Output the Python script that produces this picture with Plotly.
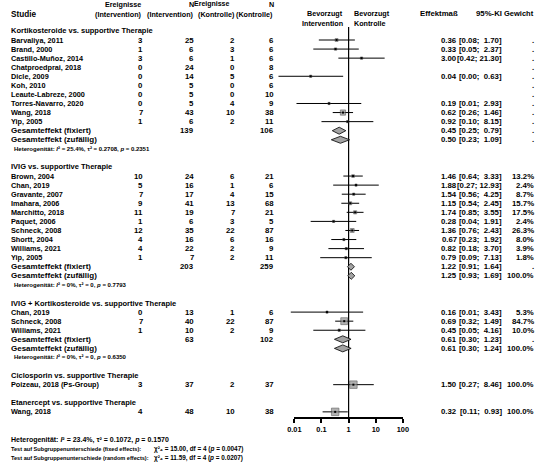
import math
import plotly.graph_objects as go

# ---------------- data ----------------
group_titles = [
    "Kortikosteroide vs. supportive Therapie",
    "IVIG vs. supportive Therapie",
    "IVIG + Kortikosteroide vs. supportive Therapie",
    "Ciclosporin vs. supportive Therapie",
    "Etanercept vs. supportive Therapie",
]
study_group = [0] * 10 + [1] * 10 + [2] * 3 + [3] + [4]
study_names = [
    "Barvaliya, 2011", "Brand, 2000", "Castillo-Muñoz, 2014", "Chatproedprai, 2018",
    "Dicle, 2009", "Koh, 2010", "Leaute-Labreze, 2000", "Torres-Navarro, 2020",
    "Wang, 2018", "Yip, 2005",
    "Brown, 2004", "Chan, 2019", "Gravante, 2007", "Imahara, 2006", "Marchitto, 2018",
    "Paquet, 2006", "Schneck, 2008", "Shortt, 2004", "Williams, 2021", "Yip, 2005",
    "Chan, 2019", "Schneck, 2008", "Williams, 2021",
    "Poizeau, 2018 (Ps-Group)",
    "Wang, 2018",
]
ev_int = [3, 1, 3, 0, 0, 0, 0, 0, 7, 1, 10, 5, 7, 9, 11, 1, 12, 4, 4, 1, 0, 7, 1, 3, 4]
n_int = [25, 6, 6, 24, 14, 5, 5, 5, 43, 6, 24, 16, 17, 41, 19, 6, 35, 16, 22, 7, 13, 40, 10, 37, 48]
ev_ctl = [2, 3, 1, 0, 5, 0, 0, 4, 10, 2, 6, 1, 4, 13, 7, 3, 22, 6, 2, 2, 1, 22, 2, 2, 10]
n_ctl = [6, 6, 6, 8, 6, 6, 10, 9, 38, 11, 21, 6, 15, 68, 21, 5, 87, 16, 9, 11, 6, 87, 9, 37, 38]
effect = [0.36, 0.33, 3.00, None, 0.04, None, None, 0.19, 0.62, 0.92,
          1.46, 1.88, 1.54, 1.15, 1.74, 0.28, 1.36, 0.67, 0.82, 0.79,
          0.16, 0.69, 0.45, 1.50, 0.32]
ci_low = [0.08, 0.05, 0.42, None, 0.0026, None, None, 0.012, 0.26, 0.10,
          0.64, 0.27, 0.56, 0.54, 0.85, 0.04, 0.76, 0.23, 0.18, 0.09,
          0.0074, 0.32, 0.05, 0.27, 0.11]
ci_high = [1.70, 2.37, 21.30, None, 0.63, None, None, 2.93, 1.46, 8.15,
           3.33, 12.93, 4.25, 2.45, 3.55, 1.91, 2.43, 1.92, 3.70, 7.13,
           3.43, 1.49, 4.16, 8.46, 0.93]
weight_pct = [None] * 10 + [13.2, 2.4, 8.7, 15.7, 17.5, 2.4, 26.3, 8.0, 3.9, 1.8,
                            5.3, 84.7, 10.0, 100.0, 100.0]

grp_n_int = [139, 203, 63, None, None]
grp_n_ctl = [106, 259, 102, None, None]
fix_eff = [0.45, 1.22, 0.61, None, None]
fix_lo = [0.25, 0.91, 0.30, None, None]
fix_hi = [0.79, 1.64, 1.23, None, None]
ran_eff = [0.50, 1.25, 0.61, None, None]
ran_lo = [0.23, 0.93, 0.30, None, None]
ran_hi = [1.09, 1.69, 1.24, None, None]
ran_w = [None, 100.0, 100.0, None, None]
het_i2 = [25.4, 0, 0, None, None]
het_tau2 = [0.2708, 0, 0, None, None]
het_p = [0.2351, 0.7793, 0.6350, None, None]

overall_het = (23.4, 0.1072, 0.1570)
test_fixed = (15.00, 4, 0.0047)
test_random = (11.59, 4, 0.0207)

tick_vals = [0.01, 0.1, 1, 10, 100]
tick_text = ["0.01", "0.1", "1", "10", "100"]

# ---------------- layout constants ----------------
W, H = 542, 465
ROW0, PITCH = 40.0, 9.07
X_ONE, DEC = 350.0, 27.8          # pixel of 1 and pixels per decade
FONT = "Liberation Sans, Arial, sans-serif"
FS_NAME = 7.3
FS_SEC = 7.5
FS_SUM = 8.0
FS_NUM = 7.8
FS_HEAD = 7.2
FS_TICK = 7.4
AXIS_Y = 418

COL_STUDY = 3
COL_EI = 140
COL_NI = 193
COL_EC = 235
COL_NC = 275
COL_EFF = 462
COL_CI = 508
COL_W = 541

SUBSCRIPT = str.maketrans("0123456789", "₀₁₂₃₄₅₆₇₈₉")


def row_y(i):
    return ROW0 + PITCH * i


annotations = []


def txt(s, xpx, ypx, anchor="left", size=FS_NUM):
    annotations.append(dict(
        text=s, x=xpx / W, xref="paper", y=ypx, yref="y", align=anchor,
        xanchor=anchor, yanchor="middle", showarrow=False, borderpad=0,
        font=dict(family=FONT, size=size, color="black", weight="bold")))


def fmt_ci(lo, hi):
    sp = "\u00a0\u00a0" if hi < 10 else "\u00a0"
    return f"[{lo:.2f};{sp}{hi:.2f}]"


def fmt_num(v):
    return "0" if v == 0 else f"{v:.4f}"


def fmt_i2(v):
    return "0%" if v == 0 else f"{v:.1f}%"


# ---------------- header ----------------
hy1, hy2 = 4, 14
txt("Studie", COL_STUDY, hy2, size=8.2)
txt("Ereignisse", 138, hy1, "right", FS_HEAD)
txt("(Intervention)", 139, hy2, "right", FS_HEAD)
txt("N", 193, hy1, "right", FS_HEAD)
txt("(Intervention)", 193, hy2, "right", FS_HEAD)
txt("Ereignisse", 230, hy1, "right", 7.0)
txt("(Kontrolle)", 235, hy2, "right", FS_HEAD)
txt("N", 275, hy1, "right", FS_HEAD)
txt("(Kontrolle)", 274, hy2, "right", FS_HEAD)
txt("Bevorzugt", 345, 13, "right", FS_HEAD)
txt("Intervention", 345, 23, "right", FS_HEAD)
txt("Bevorzugt", 355, 13, "left", FS_HEAD)
txt("Kontrolle", 355, 23, "left", FS_HEAD)
txt("Effektmaß", 463, 13, "right", 7.8)
txt("95%-KI", 508, 13, "right", 7.8)
txt("Gewicht", 541, 13, "right", 7.5)

# ---------------- body ----------------
ci_x, ci_y = [], []
sq_x, sq_y, sq_s = [], [], []
diamonds = []


def het_text(i2, tau2, p):
    return (f"Heterogenität: <i>I</i>² = {fmt_i2(i2)}, τ² = {fmt_num(tau2)}, "
            f"<i>p</i> = {p:.4f}")


def test_text(chi, df, p):
    return f"χ²{str(df).translate(SUBSCRIPT)} = {chi:.2f}, df = {df} (<i>p</i> = {p:.4f})"


row = -1
for g, title in enumerate(group_titles):
    txt(title, COL_STUDY, row_y(row), size=FS_SEC)
    row += 1
    idx = [k for k, sg in enumerate(study_group) if sg == g]
    iv = {}
    for k in idx:
        if effect[k] is not None:
            se = (math.log(ci_high[k]) - math.log(ci_low[k])) / 3.92
            iv[k] = 1 / se ** 2
    tot = sum(iv.values())
    for k in idx:
        y = row_y(row)
        txt(study_names[k], COL_STUDY, y, size=FS_NAME)
        txt(str(ev_int[k]), COL_EI, y, "right")
        txt(str(n_int[k]), COL_NI, y, "right")
        txt(str(ev_ctl[k]), COL_EC, y, "right")
        txt(str(n_ctl[k]), COL_NC, y, "right")
        if effect[k] is not None:
            txt(f"{effect[k]:.2f}", COL_EFF, y, "right")
            txt(fmt_ci(ci_low[k], ci_high[k]), COL_CI, y, "right")
            ci_x += [ci_low[k], ci_high[k], None]
            ci_y += [y, y, None]
            sq_x.append(effect[k])
            sq_y.append(y)
            sq_s.append(max(2.2, 7.5 * math.sqrt(iv[k] / tot)))
        wtxt = "." if weight_pct[k] is None else f"{weight_pct[k]:.1f}%"
        txt(wtxt, COL_W, y, "right")
        row += 1
    if fix_eff[g] is not None:
        y = row_y(row)
        txt("Gesamteffekt (fixiert)", COL_STUDY, y, size=FS_SUM)
        txt(str(grp_n_int[g]), COL_NI, y, "right")
        txt(str(grp_n_ctl[g]), COL_NC, y, "right")
        txt(f"{fix_eff[g]:.2f}", COL_EFF, y, "right")
        txt(fmt_ci(fix_lo[g], fix_hi[g]), COL_CI, y, "right")
        txt(".", COL_W, y, "right")
        diamonds.append((fix_lo[g], fix_eff[g], fix_hi[g], y))
        row += 1
        y = row_y(row)
        txt("Gesamteffekt (zufällig)", COL_STUDY, y, size=FS_SUM)
        txt(f"{ran_eff[g]:.2f}", COL_EFF, y, "right")
        txt(fmt_ci(ran_lo[g], ran_hi[g]), COL_CI, y, "right")
        txt("." if ran_w[g] is None else f"{ran_w[g]:.1f}%", COL_W, y, "right")
        diamonds.append((ran_lo[g], ran_eff[g], ran_hi[g], y))
        row += 1
        txt(het_text(het_i2[g], het_tau2[g], het_p[g]), 6, row_y(row), "left", 6.0)
        row += 1
    row += 1

# bottom texts
txt(het_text(*overall_het), COL_STUDY, 440, "left", 7.0)
txt("Test auf Subgruppenunterschiede (fixed effects):", COL_STUDY, 449, "left", 5.6)
txt(test_text(*test_fixed), 150, 449, "left", 6.4)
txt("Test auf Subgruppenunterschiede (random effects):", COL_STUDY, 458, "left", 5.6)
txt(test_text(*test_random), 150, 458, "left", 6.4)

# ---------------- traces ----------------
fig = go.Figure()
fig.add_trace(go.Scatter(x=[1, 1], y=[27, AXIS_Y], mode="lines",
                         line=dict(color="black", width=1.2), hoverinfo="skip"))
fig.add_trace(go.Scatter(x=ci_x, y=ci_y, mode="lines",
                         line=dict(color="black", width=1), hoverinfo="skip"))
fig.add_trace(go.Scatter(x=sq_x, y=sq_y, mode="markers", hoverinfo="skip",
                         marker=dict(symbol="square", size=sq_s, color="#8f8f8f",
                                     line=dict(color="#333333", width=0.7))))
fig.add_trace(go.Scatter(x=sq_x, y=sq_y, mode="markers", hoverinfo="skip",
                         marker=dict(symbol="square", size=2, color="black")))
HALF = 3.5
for lo, est, hi, y in diamonds:
    fig.add_trace(go.Scatter(x=[lo, est, hi, est, lo], y=[y, y - HALF, y, y + HALF, y],
                             mode="lines", fill="toself", fillcolor="#a3a3a3",
                             line=dict(color="black", width=0.8), hoverinfo="skip"))
fig.add_trace(go.Scatter(x=[1], y=[AXIS_Y], xaxis="x2", yaxis="y", mode="markers",
                         marker=dict(opacity=0), hoverinfo="skip"))

fig.update_layout(
    width=W, height=H, autosize=False,
    margin=dict(l=0, r=0, t=0, b=0),
    paper_bgcolor="white", plot_bgcolor="rgba(0,0,0,0)",
    showlegend=False,
    annotations=annotations,
    xaxis=dict(type="log", range=[-X_ONE / DEC, (W - X_ONE) / DEC], visible=False,
               domain=[0, 1]),
    yaxis=dict(range=[H, 0], visible=False, domain=[0, 1]),
    xaxis2=dict(type="log", range=[-2, 2],
                domain=[(X_ONE - 2 * DEC) / W, (X_ONE + 2 * DEC) / W],
                anchor="free", position=1 - AXIS_Y / H,
                showline=True, linecolor="black", linewidth=1.5,
                ticks="outside", ticklen=4, tickwidth=1.5, tickcolor="black",
                tickvals=tick_vals, ticktext=tick_text, showgrid=False, zeroline=False,
                tickfont=dict(family=FONT, size=FS_TICK, color="black", weight="bold")),
)

fig.write_html("out.html", config={"displayModeBar": False})
